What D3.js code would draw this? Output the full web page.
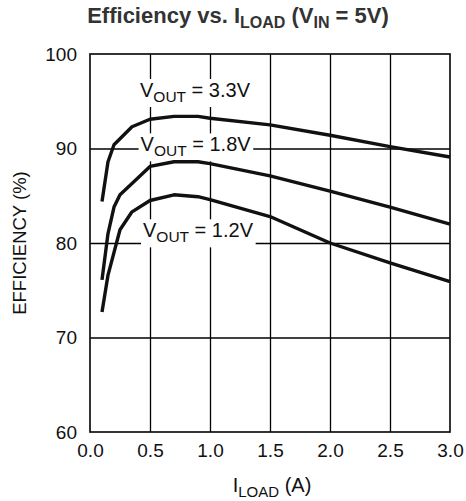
<!DOCTYPE html>
<html>
<head>
<meta charset="utf-8">
<script src="https://cdn.jsdelivr.net/npm/d3@7"></script>
<style>
  body { margin: 0; background: #fff; }
  svg { font-family: "Liberation Sans", Arial, sans-serif; }
</style>
</head>
<body>
<svg width="466" height="501"></svg>
<script>
// curve data
var load33 = [0.1, 0.15, 0.2, 0.35, 0.5, 0.7, 0.9, 1.0, 1.5, 2.0, 2.5, 3.0];
var eff33  = [84.4, 88.6, 90.4, 92.3, 93.1, 93.4, 93.4, 93.2, 92.5, 91.4, 90.2, 89.1];
var load18 = [0.1, 0.15, 0.2, 0.25, 0.35, 0.5, 0.7, 0.9, 1.0, 1.5, 2.0, 2.5, 3.0];
var eff18  = [76.1, 81.0, 83.8, 85.1, 86.3, 88.1, 88.6, 88.6, 88.4, 87.1, 85.5, 83.8, 82.0];
var load12 = [0.1, 0.15, 0.25, 0.35, 0.5, 0.7, 0.9, 1.0, 1.5, 2.0, 2.5, 3.0];
var eff12  = [72.7, 76.6, 81.4, 83.3, 84.5, 85.1, 84.9, 84.6, 82.8, 80.0, 77.9, 75.9];

var xTicks = [0, 0.5, 1.0, 1.5, 2.0, 2.5, 3.0];
var yTicks = [60, 70, 80, 90, 100];
var labels = [{v: "3.3V", x: 0.875, y: 95.45},
              {v: "1.8V", x: 0.88, y: 89.7},
              {v: "1.2V", x: 0.9, y: 80.6}];

var svg = d3.select("svg");
var xScale = d3.scaleLinear().domain([0, 3]).range([90, 450]);
var yScale = d3.scaleLinear().domain([60, 100]).range([432, 54]);

// grid
svg.append("g").attr("class", "grid")
    .attr("transform", "translate(0,432)")
    .call(d3.axisBottom(xScale).tickValues(xTicks.slice(1, -1)).tickSize(-378).tickFormat(""))
    .call(g => g.select(".domain").remove())
    .selectAll("line").attr("stroke", "#000").attr("stroke-width", 1.3);
svg.append("g").attr("class", "grid")
    .attr("transform", "translate(90,0)")
    .call(d3.axisLeft(yScale).tickValues(yTicks.slice(1, -1)).tickSize(-360).tickFormat(""))
    .call(g => g.select(".domain").remove())
    .selectAll("line").attr("stroke", "#000").attr("stroke-width", 1.3);

// labels with white boxes
var lab = svg.append("g");
labels.forEach(function(d) {
  var g = lab.append("g");
  var t = g.append("text")
      .attr("x", xScale(d.x)).attr("y", yScale(d.y))
      .attr("text-anchor", "middle")
      .style("font-size", "20px").attr("fill", "#111");
  t.append("tspan").text("V");
  t.append("tspan").text("OUT").style("font-size", "15.5px").attr("dy", 5);
  t.append("tspan").text(" = " + d.v).attr("dy", -5);
  var bb = t.node().getBBox();
  g.insert("rect", "text")
      .attr("x", bb.x - 2).attr("y", bb.y)
      .attr("width", bb.width + 4).attr("height", bb.height + 2)
      .attr("fill", "#fff");
});

// curves
var line = d3.line().x(d => xScale(d[0])).y(d => yScale(d[1]));
[[load33, eff33], [load18, eff18], [load12, eff12]].forEach(function(s) {
  svg.append("path")
      .datum(d3.zip(s[0], s[1]))
      .attr("d", line)
      .attr("fill", "none").attr("stroke", "#111")
      .attr("stroke-width", 3.4).attr("stroke-linejoin", "round");
});

// frame
svg.append("rect").attr("x", 90).attr("y", 54).attr("width", 360).attr("height", 378)
    .attr("fill", "none").attr("stroke", "#111").attr("stroke-width", 1.7);

// axes
svg.append("g")
    .attr("transform", "translate(0,432)")
    .call(d3.axisBottom(xScale).tickValues(xTicks).tickSize(0).tickPadding(12).tickFormat(d3.format(".1f")))
    .call(g => g.select(".domain").remove())
    .selectAll("text").style("font-size", "19px").attr("fill", "#111")
    .style("font-family", "'Liberation Sans', Arial, sans-serif");
svg.append("g")
    .attr("transform", "translate(90,0)")
    .call(d3.axisLeft(yScale).tickValues(yTicks).tickSize(0).tickPadding(13))
    .call(g => g.select(".domain").remove())
    .selectAll("text").style("font-size", "19px").attr("fill", "#111")
    .style("font-family", "'Liberation Sans', Arial, sans-serif");

// title
var title = svg.append("text").attr("x", 238).attr("y", 23)
    .attr("text-anchor", "middle").style("font-size", "22px")
    .style("font-weight", "bold").attr("fill", "#333");
title.append("tspan").text("Efficiency vs. I");
title.append("tspan").text("LOAD").style("font-size", "16px").attr("dy", 5);
title.append("tspan").text(" (V").attr("dy", -5);
title.append("tspan").text("IN").style("font-size", "16px").attr("dy", 5);
title.append("tspan").text(" = 5V)").attr("dy", -5);

// axis titles
var xt = svg.append("text").attr("x", 272).attr("y", 492)
    .attr("text-anchor", "middle").style("font-size", "20px").attr("fill", "#111");
xt.append("tspan").text("I");
xt.append("tspan").text("LOAD").style("font-size", "15px").attr("dy", 5);
xt.append("tspan").text(" (A)").attr("dy", -5);

svg.append("text")
    .attr("transform", "translate(26,243) rotate(-90)")
    .attr("text-anchor", "middle").style("font-size", "18.5px").attr("fill", "#111")
    .text("EFFICIENCY (%)");
</script>
</body>
</html>
